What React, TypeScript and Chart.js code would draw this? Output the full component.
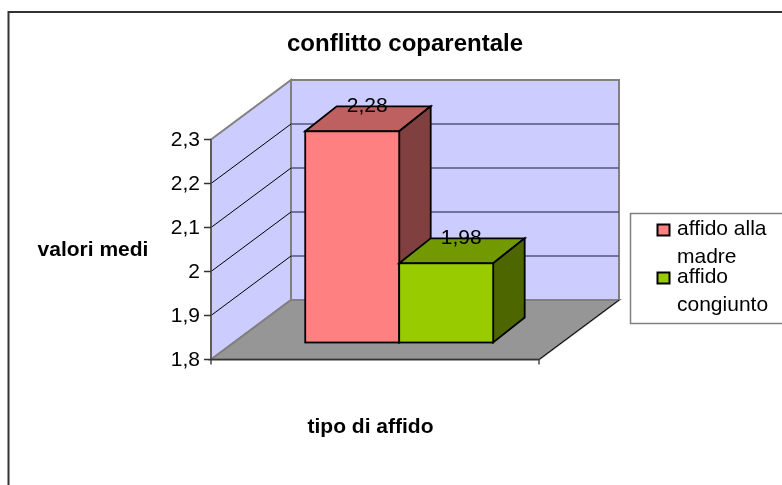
import React, { useEffect, useRef } from "react";
import { Chart, registerables } from "chart.js";

Chart.register(...registerables);

const categories = ["tipo di affido"];
const seriesNames = ["affido alla madre", "affido congiunto"];
const seriesValues = [2.28, 1.98];
const seriesLabels = ["2,28", "1,98"];
const frontColors = ["#ff8080", "#99cc00"];
const topColors = ["#bf6060", "#739900"];
const sideColors = ["#804040", "#4d6600"];
const legendLines = [["affido alla", "madre"], ["affido", "congiunto"]];
const yTicks = [1.8, 1.9, 2, 2.1, 2.2, 2.3];
const FONT = '"Liberation Sans", Arial, sans-serif';

// depth of the 3D room
const DX = 80;
const DY = -59.5;
// position of the bars inside the room, and depth of the bars
const BAR_SHIFT_X = 24.2;
const BAR_SHIFT_Y = -17;
const BAR_DX = 31.5;
const BAR_DY = -25;

const box3d = {
  id: "box3d",
  beforeDatasetsDraw(chart: any) {
    const { ctx, scales } = chart;
    const y = scales.y;
    const x = scales.x;
    const l = x.left, r = x.right, b = y.bottom, t = y.top;
    ctx.save();
    // walls
    ctx.fillStyle = "#ccccff";
    ctx.strokeStyle = "#808080";
    ctx.lineWidth = 2;
    ctx.beginPath();
    ctx.rect(l + DX, t + DY, r - l, b - t);
    ctx.fill();
    ctx.stroke();
    ctx.beginPath();
    ctx.moveTo(l, t); ctx.lineTo(l + DX, t + DY); ctx.lineTo(l + DX, b + DY); ctx.lineTo(l, b);
    ctx.closePath();
    ctx.fill();
    ctx.stroke();
    // floor
    ctx.fillStyle = "#969696";
    ctx.beginPath();
    ctx.moveTo(l, b); ctx.lineTo(l + DX, b + DY); ctx.lineTo(r + DX, b + DY); ctx.lineTo(r, b);
    ctx.closePath();
    ctx.fill();
    ctx.stroke();
    ctx.strokeStyle = "#000000";
    ctx.lineWidth = 1;
    ctx.beginPath();
    ctx.moveTo(r, b); ctx.lineTo(r + DX, b + DY);
    ctx.stroke();
    // gridlines
    yTicks.slice(1, -1).forEach((v) => {
      const py = y.getPixelForValue(v);
      ctx.strokeStyle = "#000000";
      ctx.lineWidth = 1;
      ctx.beginPath();
      ctx.moveTo(l, py); ctx.lineTo(l + DX, py + DY);
      ctx.stroke();
      ctx.strokeStyle = "#55557a";
      ctx.lineWidth = 1.5;
      ctx.beginPath();
      ctx.moveTo(l + DX, py + DY); ctx.lineTo(r + DX, py + DY);
      ctx.stroke();
    });
    // axes
    ctx.strokeStyle = "#555555";
    ctx.lineWidth = 1.6;
    ctx.beginPath();
    ctx.moveTo(l, t); ctx.lineTo(l, b + 5);
    ctx.moveTo(r, b); ctx.lineTo(r, b + 5);
    ctx.stroke();
    ctx.strokeStyle = "#333333";
    ctx.lineWidth = 1.6;
    ctx.beginPath();
    ctx.moveTo(l - 7, b); ctx.lineTo(r, b);
    yTicks.forEach((v) => {
      const py = y.getPixelForValue(v);
      ctx.moveTo(l - 7, py); ctx.lineTo(l, py);
    });
    ctx.stroke();
    ctx.restore();
  },
  afterDatasetsDraw(chart: any) {
    const { ctx } = chart;
    const base = chart.scales.y.bottom + BAR_SHIFT_Y;
    ctx.save();
    ctx.lineWidth = 1.8;
    ctx.strokeStyle = "#000000";
    ctx.lineJoin = "miter";
    const dx = BAR_DX, dy = BAR_DY;
    chart.data.datasets.forEach((ds: any, i: number) => {
      const el = chart.getDatasetMeta(i).data[0];
      const half = el.width / 2;
      const a = el.x - half + BAR_SHIFT_X, c = el.x + half + BAR_SHIFT_X, top = el.y + BAR_SHIFT_Y;
      ctx.fillStyle = topColors[i];
      ctx.beginPath();
      ctx.moveTo(a, top); ctx.lineTo(a + dx, top + dy); ctx.lineTo(c + dx, top + dy); ctx.lineTo(c, top);
      ctx.closePath(); ctx.fill(); ctx.stroke();
      ctx.fillStyle = sideColors[i];
      ctx.beginPath();
      ctx.moveTo(c, top); ctx.lineTo(c + dx, top + dy); ctx.lineTo(c + dx, base + dy); ctx.lineTo(c, base);
      ctx.closePath(); ctx.fill(); ctx.stroke();
      ctx.fillStyle = frontColors[i];
      ctx.fillRect(a, top, c - a, base - top);
      ctx.strokeRect(a, top, c - a, base - top);
    });
    // value labels
    ctx.fillStyle = "#000000";
    ctx.font = `21px ${FONT}`;
    ctx.textAlign = "center";
    ctx.textBaseline = "middle";
    chart.data.datasets.forEach((ds: any, i: number) => {
      const el = chart.getDatasetMeta(i).data[0];
      ctx.fillText(seriesLabels[i], el.x + BAR_SHIFT_X + 15, el.y - 42.5);
    });
    ctx.restore();
  },
};

const textLayer = {
  id: "textLayer",
  afterDraw(chart: any) {
    const { ctx, scales } = chart;
    ctx.save();
    // outer frame (its right and bottom sides lie outside the picture)
    ctx.strokeStyle = "#333333";
    ctx.lineWidth = 2;
    ctx.strokeRect(8.5, 12, 900, 700);
    // titles
    ctx.fillStyle = "#000000";
    ctx.textBaseline = "middle";
    ctx.textAlign = "center";
    ctx.font = `bold 24px ${FONT}`;
    ctx.fillText("conflitto coparentale", 405, 44);
    ctx.font = `bold 21px ${FONT}`;
    ctx.fillText("valori medi", 93, 250);
    ctx.fillText(categories[0], 370.5, 427);
    // y tick labels
    ctx.font = `21px ${FONT}`;
    ctx.textAlign = "right";
    yTicks.forEach((v) => {
      ctx.fillText(String(v).replace(".", ","), 200, scales.y.getPixelForValue(v) + 1);
    });
    // legend
    ctx.strokeStyle = "#808080";
    ctx.lineWidth = 1.5;
    ctx.fillStyle = "#ffffff";
    ctx.fillRect(630.5, 213.5, 200, 110);
    ctx.strokeRect(630.5, 213.5, 200, 110);
    ctx.font = `21px ${FONT}`;
    ctx.textAlign = "left";
    ctx.fillStyle = "#000000";
    ctx.fillText(legendLines[0][0], 677, 229);
    ctx.fillText(legendLines[0][1], 677, 257);
    ctx.fillText(legendLines[1][0], 677, 277);
    ctx.fillText(legendLines[1][1], 677, 305);
    [230, 278].forEach((py, i) => {
      ctx.fillStyle = frontColors[i];
      ctx.strokeStyle = "#000000";
      ctx.lineWidth = 2;
      ctx.fillRect(657.5, py - 5.5, 12, 11);
      ctx.strokeRect(657.5, py - 5.5, 12, 11);
    });
    ctx.restore();
  },
};

export default function App() {
  const ref = useRef<HTMLCanvasElement>(null);
  useEffect(() => {
    const chart = new Chart(ref.current!, {
      type: "bar",
      data: {
        labels: categories,
        datasets: seriesNames.map((n, i) => ({
          label: n,
          data: [seriesValues[i]],
          backgroundColor: "rgba(0,0,0,0)",
          borderWidth: 0,
          barPercentage: 1,
          categoryPercentage: 0.573,
        })),
      },
      options: {
        responsive: false,
        animation: false,
        layout: { padding: { left: 211, top: 139.5, right: 243, bottom: 125.5 } },
        plugins: { legend: { display: false }, tooltip: { enabled: false }, title: { display: false } },
        scales: {
          x: {
            grid: { display: false },
            border: { display: false },
            ticks: { display: false },
            afterFit(axis: any) { axis.height = 0; },
          },
          y: {
            min: 1.8,
            max: 2.3,
            grid: { display: false },
            border: { display: false },
            afterBuildTicks(axis: any) {
              axis.ticks = yTicks.map((value) => ({ value }));
            },
            afterFit(axis: any) { axis.width = 0; },
            ticks: { display: false },
          },
        },
      },
      plugins: [box3d, textLayer],
    });
    return () => chart.destroy();
  }, []);
  return <canvas ref={ref} width={782} height={485} style={{ display: "block", position: "absolute", left: 0, top: 0 }} />;
}
